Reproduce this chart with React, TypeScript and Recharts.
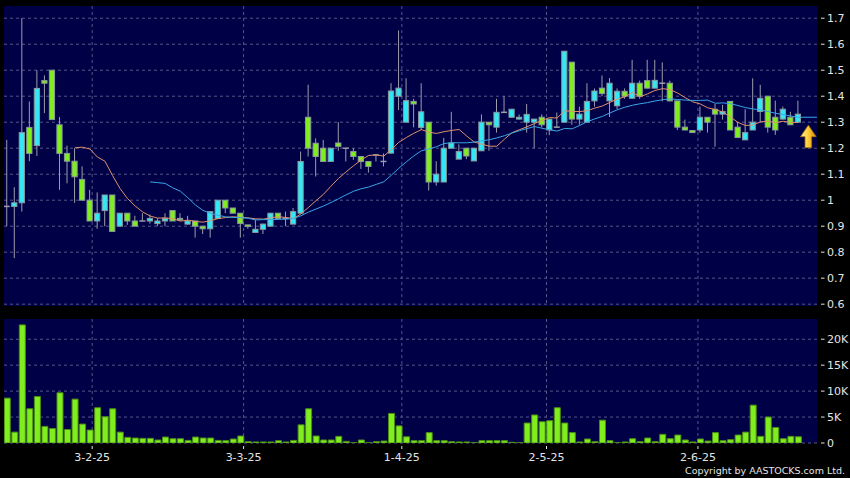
import React from "react";
import {
  Bar,
  CartesianGrid,
  ComposedChart,
  Line,
  ReferenceDot,
  ReferenceLine,
  XAxis,
  YAxis,
} from "recharts";

// daily OHLC, one entry per trading day (oldest first)
const opens = [
  0.976, 0.976, 0.99, 1.28, 1.21, 1.46, 1.5, 1.29, 1.18, 1.15,
  1.08, 1.0, 0.92, 0.96, 1.02, 0.9, 0.95, 0.92, 0.92, 0.92,
  0.91, 0.92, 0.96, 0.93, 0.908, 0.92, 0.9, 0.89, 0.93, 1.0,
  0.97, 0.95, 0.905, 0.876, 0.888, 0.9, 0.95, 0.93, 0.908, 0.95,
  1.319, 1.219, 1.2, 1.149, 1.22, 1.2, 1.187, 1.168, 1.149, 1.174,
  1.149, 1.181, 1.4, 1.3, 1.38, 1.28, 1.3, 1.07, 1.07, 1.2,
  1.158, 1.2, 1.151, 1.19, 1.3, 1.281, 1.338, 1.319, 1.312, 1.3,
  1.3, 1.319, 1.27, 1.281, 1.3, 1.531, 1.312, 1.3, 1.382, 1.431,
  1.382, 1.363, 1.419, 1.392, 1.45, 1.46, 1.431, 1.45, 1.45, 1.382,
  1.281, 1.268, 1.27, 1.319, 1.35, 1.331, 1.38, 1.281, 1.232, 1.27,
  1.341, 1.4, 1.319, 1.312, 1.319, 1.3,
];
const highs = [
  1.232, 1.05, 1.7, 1.38, 1.5, 1.48, 1.5, 1.32, 1.21, 1.2,
  1.13, 1.04, 1.03, 1.02, 1.02, 0.95, 0.95, 0.94, 0.95, 0.945,
  0.93, 0.95, 0.96, 0.95, 0.94, 0.92, 0.9, 0.956, 1.0, 1.0,
  0.97, 0.95, 0.905, 0.925, 0.91, 0.95, 0.95, 0.956, 0.97, 1.187,
  1.444, 1.238, 1.232, 1.2, 1.3, 1.2, 1.2, 1.17, 1.15, 1.174,
  1.18, 1.45, 1.653, 1.469, 1.39, 1.45, 1.3, 1.15, 1.24, 1.34,
  1.215, 1.2, 1.2, 1.33, 1.3, 1.39, 1.4, 1.35, 1.33, 1.37,
  1.312, 1.33, 1.312, 1.337, 1.573, 1.531, 1.36, 1.45, 1.43, 1.48,
  1.47, 1.43, 1.43, 1.54, 1.46, 1.54, 1.54, 1.53, 1.46, 1.382,
  1.31, 1.268, 1.36, 1.32, 1.37, 1.367, 1.38, 1.3, 1.35, 1.469,
  1.444, 1.4, 1.383, 1.36, 1.34, 1.383,
];
const lows = [
  0.9, 0.777, 0.956, 1.15, 1.17, 1.335, 1.31, 1.04, 1.065, 0.99,
  1.0, 0.92, 0.89, 0.9, 0.88, 0.9, 0.905, 0.9, 0.92, 0.91,
  0.9, 0.9, 0.92, 0.92, 0.905, 0.856, 0.87, 0.856, 0.928, 0.95,
  0.95, 0.856, 0.89, 0.876, 0.87, 0.9, 0.93, 0.9, 0.908, 0.95,
  1.168, 1.091, 1.149, 1.149, 1.19, 1.149, 1.155, 1.12, 1.106, 1.149,
  1.13, 1.18, 1.347, 1.3, 1.28, 1.27, 1.037, 1.056, 1.07, 1.2,
  1.158, 1.158, 1.151, 1.19, 1.19, 1.26, 1.338, 1.319, 1.31, 1.26,
  1.2, 1.28, 1.25, 1.28, 1.3, 1.29, 1.29, 1.3, 1.36, 1.4,
  1.32, 1.35, 1.39, 1.39, 1.39, 1.43, 1.43, 1.38, 1.38, 1.27,
  1.27, 1.26, 1.26, 1.26, 1.206, 1.31, 1.27, 1.24, 1.232, 1.27,
  1.3, 1.26, 1.251, 1.31, 1.29, 1.3,
];
const closes = [
  0.976, 0.99, 1.26, 1.18, 1.43, 1.45, 1.31, 1.18, 1.15, 1.09,
  1.0, 0.92, 0.95, 1.02, 0.88, 0.95, 0.92, 0.9, 0.92, 0.93,
  0.92, 0.93, 0.92, 0.925, 0.92, 0.9, 0.89, 0.956, 1.0, 0.97,
  0.95, 0.91, 0.9, 0.888, 0.908, 0.95, 0.93, 0.93, 0.956, 1.149,
  1.2, 1.168, 1.149, 1.2, 1.207, 1.2, 1.168, 1.149, 1.13, 1.174,
  1.149, 1.42, 1.431, 1.383, 1.37, 1.34, 1.07, 1.1, 1.2, 1.22,
  1.187, 1.17, 1.2, 1.3, 1.29, 1.338, 1.338, 1.35, 1.319, 1.33,
  1.312, 1.29, 1.312, 1.281, 1.573, 1.312, 1.331, 1.38, 1.42, 1.41,
  1.45, 1.419, 1.4, 1.45, 1.4, 1.431, 1.461, 1.45, 1.382, 1.281,
  1.27, 1.26, 1.319, 1.3, 1.331, 1.341, 1.27, 1.241, 1.26, 1.3,
  1.392, 1.281, 1.27, 1.35, 1.29, 1.331,
];
const volumes = [
  8650, 2100, 22760, 6600, 8970, 3200, 2800, 9680, 2600, 8460,
  3650, 2500, 6800, 5060, 6600, 2100, 1090, 960, 900, 900,
  580, 1150, 830, 830, 500, 1150, 960, 960, 500, 450,
  770, 1350, 260, 200, 200, 200, 450, 200, 500, 3500,
  6600, 1350, 580, 580, 1280, 320, 60, 580, 60, 260,
  380, 5700, 3300, 1200, 450, 450, 2000, 450, 450, 260,
  200, 200, 80, 450, 450, 450, 450, 130, 50, 3850,
  5400, 4100, 4300, 6800, 3850, 2000, 200, 770, 260, 4400,
  450, 60, 200, 830, 260, 960, 260, 1670, 830, 1540,
  580, 200, 770, 380, 2000, 450, 640, 1540, 2100, 7300,
  1280, 5000, 3000, 830, 1280, 1200,
];

// month labels sit on the first trading day of each month (day index)
const dateTicks = [11.3, 31.4, 52.4, 71.6, 91.7];
const dateLabels = ["3-2-25", "3-3-25", "1-4-25", "2-5-25", "2-6-25"];
const priceTicks = [0.6, 0.7, 0.8, 0.9, 1.0, 1.1, 1.2, 1.3, 1.4, 1.5, 1.6, 1.7];
const volumeTicks = [0, 5000, 10000, 15000, 20000];

const X_DOMAIN: [number, number] = [-0.4, 107.5];
const PANEL = "#000046";
const GRID = "#56568a";
const UP = "#33e8f4";
const DOWN = "#80ee1e";
const EDGE = "#8a9a9c";
const WICK = "#9c9cac";
const MA10 = "#e0906c";
const MA20 = "#3aa6e6";
const TEXT = "#e4e4e4";
const FONT = "DejaVu Sans";

function movingAverage(values: number[], n: number) {
  return values.map((_, i) =>
    i < n - 1 ? null : values.slice(i - n + 1, i + 1).reduce((a, b) => a + b, 0) / n
  );
}

const ma10 = movingAverage(closes, 10);
const ma20 = movingAverage(closes, 20);

const rows = closes.map((close, i) => ({
  x: i,
  open: opens[i],
  high: highs[i],
  low: lows[i],
  close,
  range: [lows[i], highs[i]],
  ma10: ma10[i],
  ma20: ma20[i],
  volume: volumes[i],
}));

const last = rows.length - 1;

function Candle(props: any) {
  const { x, y, width, height, payload } = props;
  const { open, close, high, low } = payload;
  const top = Math.min(y, y + height);
  const h = Math.abs(height);
  const cx = x + width / 2;
  const span = high - low || 1;
  const toY = (v: number) => top + ((high - v) / span) * h;
  const bodyTop = toY(Math.max(open, close));
  const bodyBottom = toY(Math.min(open, close));
  const color = close > open ? UP : close < open ? DOWN : null;
  return (
    <g>
      <line x1={cx} x2={cx} y1={top} y2={top + h} stroke={WICK} strokeWidth={1} />
      {color ? (
        <rect
          x={cx - 2.6}
          y={bodyTop}
          width={5.2}
          height={Math.max(bodyBottom - bodyTop, 1.5)}
          fill={color}
          stroke={EDGE}
          strokeWidth={1}
        />
      ) : (
        <line x1={cx - 3} x2={cx + 3} y1={bodyTop} y2={bodyTop} stroke={WICK} strokeWidth={1.5} />
      )}
    </g>
  );
}

function Arrow(props: any) {
  const { cx, cy } = props;
  const t = cy + 11;
  const d = `M${cx},${t} L${cx + 7.8},${t + 11.5} L${cx + 3.3},${t + 11.5} L${cx + 3.3},${t + 22.5} L${cx - 3.3},${t + 22.5} L${cx - 3.3},${t + 11.5} L${cx - 7.8},${t + 11.5} Z`;
  return (
    <g>
      <defs>
        <linearGradient id="arrowFill" x1="0" y1="0" x2="1" y2="0">
          <stop offset="0%" stopColor="#fff0a0" />
          <stop offset="45%" stopColor="#ffd23a" />
          <stop offset="100%" stopColor="#d88a08" />
        </linearGradient>
      </defs>
      <path d={d} fill="url(#arrowFill)" stroke="#b07010" strokeWidth={0.8} />
    </g>
  );
}

function fmtPrice(v: number) {
  return String(Number(v.toFixed(1)));
}

function fmtVolume(v: number) {
  return v === 0 ? "0" : `${v / 1000}K`;
}

function RightTick(props: any) {
  const { x, y, payload, fmt } = props;
  return (
    <g>
      <line x1={x + 4} x2={x + 7.5} y1={y} y2={y} stroke={TEXT} strokeWidth={1} />
      <text x={x + 10} y={y} fill={TEXT} fontSize={11} fontFamily={FONT} dominantBaseline="central">
        {fmt(payload.value)}
      </text>
    </g>
  );
}

function DateTick(props: any) {
  const { x, y, payload } = props;
  const label = dateLabels[dateTicks.indexOf(payload.value)];
  return (
    <g>
      <line x1={x} x2={x} y1={y + 3} y2={y + 6} stroke={TEXT} strokeWidth={1} />
      <text x={x} y={y + 14.5} fill={TEXT} fontSize={11} fontFamily={FONT} textAnchor="middle" dominantBaseline="central">
        {label}
      </text>
    </g>
  );
}

export default function App() {
  return (
    <div
      style={{
        position: "absolute",
        left: 0,
        top: 0,
        width: 850,
        height: 478,
        background: "#000",
        overflow: "hidden",
      }}
    >
      <ComposedChart width={850} height={310} data={rows} margin={{ top: 6, right: 0, bottom: 4, left: 4 }}>
        <CartesianGrid
          fill={PANEL}
          stroke={GRID}
          strokeDasharray="3 3"
          horizontalValues={priceTicks}
          verticalValues={dateTicks}
        />
        <XAxis type="number" dataKey="x" domain={X_DOMAIN} allowDataOverflow hide />
        <YAxis
          orientation="right"
          width={33}
          domain={[0.593, 1.747]}
          ticks={priceTicks}
          allowDataOverflow
          axisLine={false}
          tickLine={false}
          tickSize={0}
          tickMargin={0}
          interval={0}
          tick={<RightTick fmt={fmtPrice} />}
        />
        <Bar dataKey="range" barSize={7} shape={Candle} isAnimationActive={false} />
        <Line
          type="linear"
          dataKey="ma10"
          stroke={MA10}
          strokeWidth={1}
          dot={false}
          activeDot={false}
          isAnimationActive={false}
        />
        <Line
          type="linear"
          dataKey="ma20"
          stroke={MA20}
          strokeWidth={1}
          dot={false}
          activeDot={false}
          isAnimationActive={false}
        />
        <ReferenceLine
          segment={[
            { x: last, y: ma20[last] as number },
            { x: X_DOMAIN[1], y: ma20[last] as number },
          ]}
          stroke={MA20}
          strokeWidth={1}
          ifOverflow="visible"
        />
        <ReferenceDot x={last + 1.35} y={closes[last]} shape={Arrow} ifOverflow="visible" />
      </ComposedChart>
      <ComposedChart width={850} height={168} data={rows} margin={{ top: 9, right: 0, bottom: 0, left: 4 }}>
        <CartesianGrid
          fill={PANEL}
          stroke={GRID}
          strokeDasharray="3 3"
          horizontalValues={volumeTicks}
          verticalValues={dateTicks}
        />
        <XAxis
          type="number"
          dataKey="x"
          domain={X_DOMAIN}
          allowDataOverflow
          ticks={dateTicks}
          interval={0}
          height={35}
          axisLine={false}
          tickLine={false}
          tickSize={0}
          tickMargin={0}
          tick={<DateTick />}
        />
        <YAxis
          orientation="right"
          width={33}
          domain={[0, 23900]}
          ticks={volumeTicks}
          allowDataOverflow
          axisLine={false}
          tickLine={false}
          tickSize={0}
          tickMargin={0}
          interval={0}
          tick={<RightTick fmt={fmtVolume} />}
        />
        <Bar dataKey="volume" barSize={6} fill={DOWN} stroke="#4c8c14" strokeWidth={1} isAnimationActive={false} />
      </ComposedChart>
      <div
        style={{
          position: "absolute",
          right: 5,
          top: 464,
          fontFamily: FONT,
          fontSize: 9.5,
          lineHeight: "14px",
          color: TEXT,
          whiteSpace: "nowrap",
        }}
      >
        Copyright by AASTOCKS.com Ltd.
      </div>
    </div>
  );
}
